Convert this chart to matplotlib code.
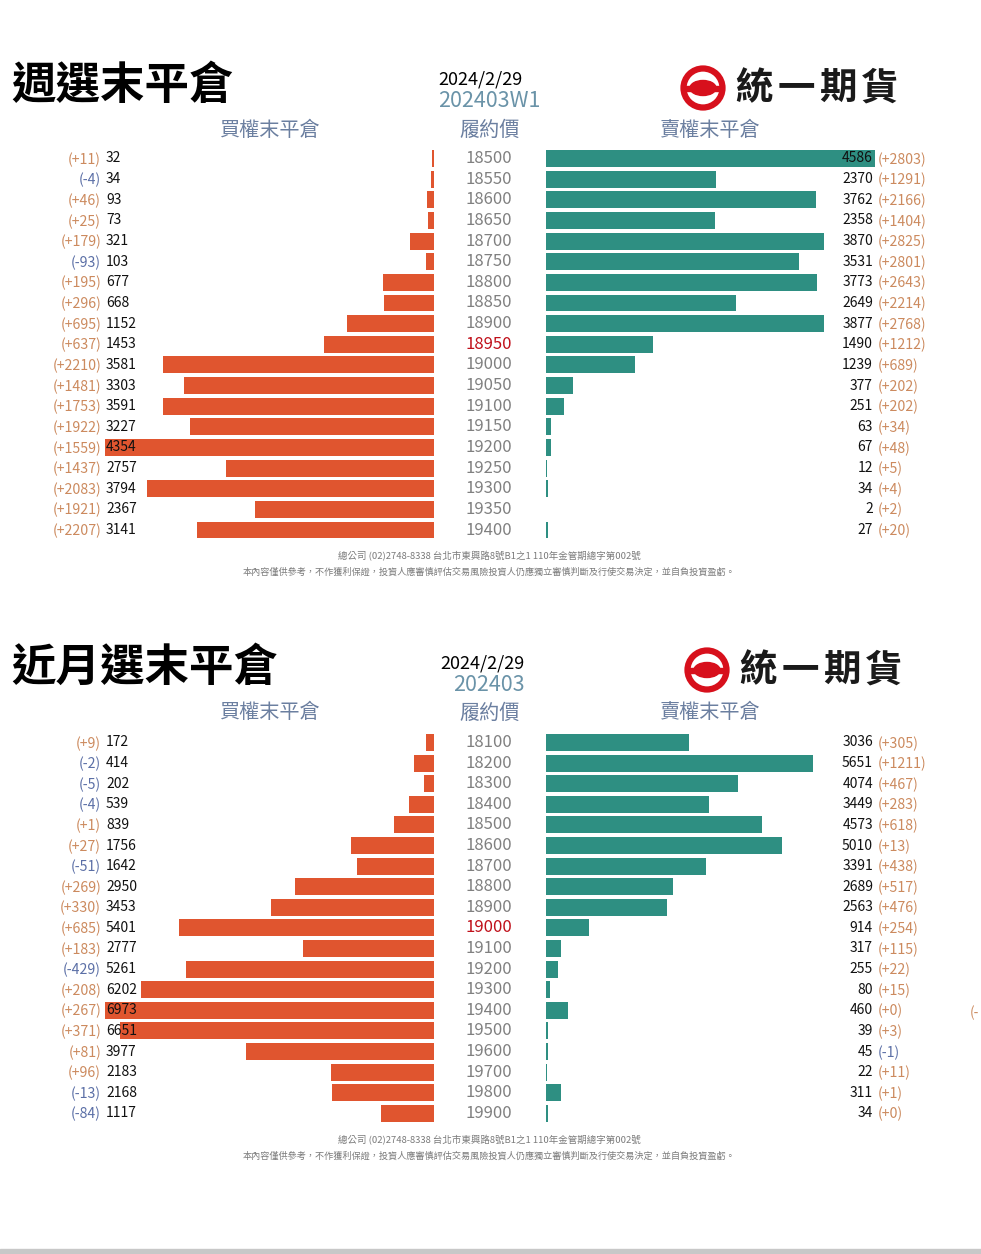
import matplotlib
matplotlib.use("Agg")
import matplotlib.pyplot as plt
from matplotlib.patches import Circle, Ellipse, Rectangle

plt.rcParams['font.family'] = ['Noto Sans CJK TC', 'DejaVu Sans']

# ============ 資料 ============
# 週選 202403W1
w_strikes = [18500, 18550, 18600, 18650, 18700, 18750, 18800, 18850, 18900, 18950,
             19000, 19050, 19100, 19150, 19200, 19250, 19300, 19350, 19400]
w_call = [32, 34, 93, 73, 321, 103, 677, 668, 1152, 1453,
          3581, 3303, 3591, 3227, 4354, 2757, 3794, 2367, 3141]
w_call_chg = [11, -4, 46, 25, 179, -93, 195, 296, 695, 637,
              2210, 1481, 1753, 1922, 1559, 1437, 2083, 1921, 2207]
w_put = [4586, 2370, 3762, 2358, 3870, 3531, 3773, 2649, 3877, 1490,
         1239, 377, 251, 63, 67, 12, 34, 2, 27]
w_put_chg = [2803, 1291, 2166, 1404, 2825, 2801, 2643, 2214, 2768, 1212,
             689, 202, 202, 34, 48, 5, 4, 2, 20]
w_atm = 18950

# 近月 202403
m_strikes = [18100, 18200, 18300, 18400, 18500, 18600, 18700, 18800, 18900, 19000,
             19100, 19200, 19300, 19400, 19500, 19600, 19700, 19800, 19900]
m_call = [172, 414, 202, 539, 839, 1756, 1642, 2950, 3453, 5401,
          2777, 5261, 6202, 6973, 6651, 3977, 2183, 2168, 1117]
m_call_chg = [9, -2, -5, -4, 1, 27, -51, 269, 330, 685,
              183, -429, 208, 267, 371, 81, 96, -13, -84]
m_put = [3036, 5651, 4074, 3449, 4573, 5010, 3391, 2689, 2563, 914,
         317, 255, 80, 460, 39, 45, 22, 311, 34]
m_put_chg = [305, 1211, 467, 283, 618, 13, 438, 517, 476, 254,
             115, 22, 15, 0, 3, -1, 11, 1, 0]
m_atm = 19000

# ============ 樣式 ============
W, H = 981, 1254
CALL_C = '#E0552F'
PUT_C = '#2E8F82'
POS_C = '#CC8A5E'
NEG_C = '#5B6FA6'
HEAD_C = '#6B7FA0'
STRIKE_C = '#808080'
ATM_C = '#C0101A'
FOOT_C = '#7A7A7A'

fig = plt.figure(figsize=(W / 100, H / 100), dpi=100)
fig.patch.set_facecolor('white')

# 全圖像素座標層（放在長條圖之上）
ov = fig.add_axes([0, 0, 1, 1])
ov.set_xlim(0, W)
ov.set_ylim(H, 0)
ov.axis('off')
ov.set_zorder(10)


def px_axes(x0, y0, x1, y1):
    return fig.add_axes([x0 / W, 1 - y1 / H, (x1 - x0) / W, (y1 - y0) / H])


def chg_text(v):
    return f'(+{v})' if v >= 0 else f'({v})'


def draw_logo(cx, cy):
    ov.add_patch(Circle((cx, cy), 19.5, fill=False, ec='#D7101C', lw=4.5, zorder=5))
    ov.add_patch(Rectangle((cx - 19, cy - 2.5), 38, 5, color='#D7101C', zorder=5))
    ov.add_patch(Ellipse((cx, cy), 26, 15, color='#D7101C', zorder=5))
    for k, ch in enumerate('統一期貨'):
        ov.text(cx + 51 + k * 42, cy, ch, fontsize=27, fontweight='heavy', color='#1a1a1a',
                ha='center', va='center', zorder=5)


def draw_panel(title, date_x, date_y, date_ha, series, header_y,
               strikes, call, call_chg, put, put_chg, atm,
               row0, step, call_max, put_max, logo_x, logo_y, foot_y):
    n = len(strikes)
    top = row0 - step / 2
    bot = row0 + step * (n - 1) + step / 2

    # 標題、日期、商品
    ov.text(11, logo_y - 2, title, fontsize=32, fontweight='bold', color='black',
            ha='left', va='center')
    ov.text(date_x, date_y, '2024/2/29', fontsize=13, color='black',
            ha=date_ha, va='center')
    ov.text(date_x, date_y + 21, series, fontsize=15.5,
            color='#6A93A8', ha=date_ha, va='center')
    draw_logo(logo_x, logo_y)

    # 欄位標題
    ov.text(270, header_y, '買權末平倉', fontsize=14.5, color=HEAD_C, ha='center', va='center')
    ov.text(490, header_y, '履約價', fontsize=14.5, color=HEAD_C, ha='center', va='center')
    ov.text(710, header_y, '賣權末平倉', fontsize=14.5, color=HEAD_C, ha='center', va='center')

    # 買權長條
    axl = px_axes(105, top, 434, bot)
    axl.barh(range(n), call, height=0.82, color=CALL_C, zorder=1)
    axl.set_xlim(call_max, 0)
    axl.set_ylim(n - 0.5, -0.5)
    axl.axis('off')

    # 賣權長條
    axr = px_axes(546, top, 875, bot)
    axr.barh(range(n), put, height=0.82, color=PUT_C, zorder=1)
    axr.set_xlim(0, put_max)
    axr.set_ylim(n - 0.5, -0.5)
    axr.axis('off')

    for i in range(n):
        y = row0 + i * step
        ov.text(101, y + 1, chg_text(call_chg[i]), fontsize=10.2,
                color=POS_C if call_chg[i] >= 0 else NEG_C, ha='right', va='center', zorder=6)
        ov.text(106, y, f'{call[i]}', fontsize=10, color='#111111',
                ha='left', va='center', zorder=6)
        ov.text(489, y, f'{strikes[i]}', fontsize=12,
                color=ATM_C if strikes[i] == atm else STRIKE_C,
                ha='center', va='center', zorder=6)
        ov.text(873, y, f'{put[i]}', fontsize=10, color='#111111',
                ha='right', va='center', zorder=6)
        ov.text(878, y + 1, chg_text(put_chg[i]), fontsize=10.2,
                color=POS_C if put_chg[i] >= 0 else NEG_C, ha='left', va='center', zorder=6)

    # 頁尾
    ov.text(489, foot_y, '總公司 (02)2748-8338 台北市東興路8號B1之1 110年金管期總字第002號',
            fontsize=6.8, color=FOOT_C, ha='center', va='center')
    ov.text(489, foot_y + 16,
            '本內容僅供參考，不作獲利保證，投資人應審慎評估交易風險投資人仍應獨立審慎判斷及行使交易決定，並自負投資盈虧。',
            fontsize=6.6, color=FOOT_C, ha='center', va='center')


draw_panel('週選末平倉', 438, 80, 'left', '202403W1', 130,
           w_strikes, w_call, w_call_chg, w_put, w_put_chg, w_atm,
           158.5, 20.64, max(w_call), max(w_put), 703, 88, 556)

draw_panel('近月選末平倉', 525, 664, 'right', '202403', 713,
           m_strikes, m_call, m_call_chg, m_put, m_put_chg, m_atm,
           742.5, 20.6, max(m_call + m_put), max(m_call + m_put), 707, 670, 1140)

# 右側殘字與底部灰線
ov.text(970, 1013, '(-', fontsize=10, color=POS_C, ha='left', va='center')
ov.add_patch(Rectangle((0, 1249), W, 5, color='#C8C8C8', zorder=5))

fig.savefig('out.png', dpi=100, facecolor='white')
